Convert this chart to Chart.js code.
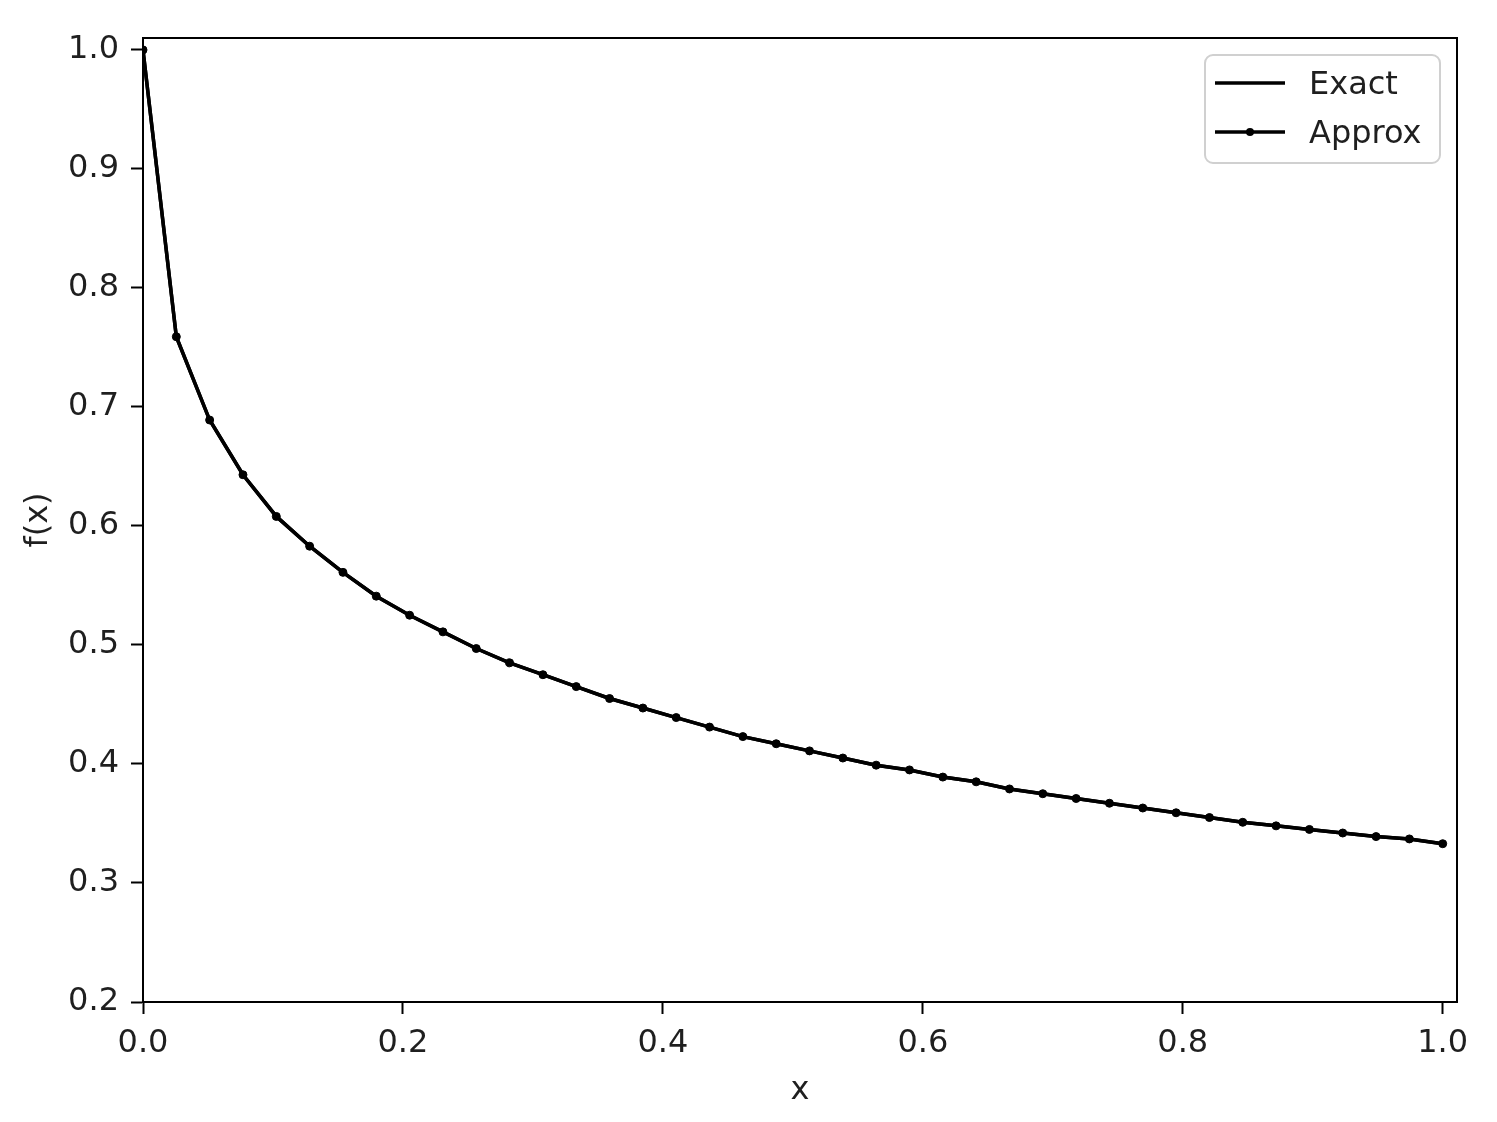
<!DOCTYPE html>
<html>
<head>
<meta charset="utf-8">
<script src="https://cdn.jsdelivr.net/npm/chart.js@4.4.1/dist/chart.umd.min.js"></script>
<style>
  html, body { margin: 0; padding: 0; background: #ffffff; }
  #wrap { width: 1497px; height: 1122px; }
</style>
</head>
<body>
<div id="wrap"><canvas id="c" width="1497" height="1122"></canvas></div>
<script>
// ---- data ----
const xValues = [
  0, 1/39, 2/39, 3/39, 4/39, 5/39, 6/39, 7/39, 8/39, 9/39,
  10/39, 11/39, 12/39, 13/39, 14/39, 15/39, 16/39, 17/39, 18/39, 19/39,
  20/39, 21/39, 22/39, 23/39, 24/39, 25/39, 26/39, 27/39, 28/39, 29/39,
  30/39, 31/39, 32/39, 33/39, 34/39, 35/39, 36/39, 37/39, 38/39, 1
];
const approxValues = [
  1.000, 0.759, 0.689, 0.643, 0.608, 0.583, 0.561, 0.541, 0.525, 0.511,
  0.497, 0.485, 0.475, 0.465, 0.455, 0.447, 0.439, 0.431, 0.423, 0.417,
  0.411, 0.405, 0.399, 0.395, 0.389, 0.385, 0.379, 0.375, 0.371, 0.367,
  0.363, 0.359, 0.355, 0.351, 0.348, 0.345, 0.342, 0.339, 0.337, 0.333
];
const exactValues = [
  1.000, 0.759, 0.689, 0.643, 0.608, 0.583, 0.561, 0.541, 0.525, 0.511,
  0.497, 0.485, 0.475, 0.465, 0.455, 0.447, 0.439, 0.431, 0.423, 0.417,
  0.411, 0.405, 0.399, 0.395, 0.389, 0.385, 0.379, 0.375, 0.371, 0.367,
  0.363, 0.359, 0.355, 0.351, 0.348, 0.345, 0.342, 0.339, 0.337, 0.333
];
const seriesNames = ["Exact", "Approx"];
const xTickValues = [0.0, 0.2, 0.4, 0.6, 0.8, 1.0];
const yTickValues = [0.2, 0.3, 0.4, 0.5, 0.6, 0.7, 0.8, 0.9, 1.0];
const xTitle = "x";
const yTitle = "f(x)";

const FONT = "'DejaVu Sans', 'Liberation Sans', sans-serif";
const TEXT = "#1f1f1f";

const toPoints = (ys) => xValues.map((x, i) => ({ x: x, y: ys[i] }));

// frame (top/right spines) + legend box
const framePlugin = {
  id: 'frameAndLegend',
  afterDraw(chart) {
    const ctx = chart.ctx;
    const a = chart.chartArea;
    ctx.save();
    ctx.strokeStyle = '#000';
    ctx.lineWidth = 2;
    ctx.beginPath();
    ctx.moveTo(a.left, a.top);
    ctx.lineTo(a.right, a.top);
    ctx.lineTo(a.right, a.bottom);
    ctx.stroke();

    // legend
    const bw = 235, bh = 108;
    const bx = a.right - 17 - bw, by = a.top + 17;
    ctx.fillStyle = 'rgba(255,255,255,0.8)';
    ctx.strokeStyle = '#d0d0d0';
    ctx.lineWidth = 2;
    ctx.beginPath();
    ctx.roundRect(bx, by, bw, bh, 8);
    ctx.fill();
    ctx.stroke();

    const rows = [by + 28, by + 77];
    chart.data.datasets.forEach((ds, i) => {
      const y = rows[i];
      ctx.strokeStyle = ds.borderColor;
      ctx.lineWidth = ds.borderWidth;
      ctx.beginPath();
      ctx.moveTo(bx + 10, y);
      ctx.lineTo(bx + 80, y);
      ctx.stroke();
      if (ds.pointRadius > 0) {
        ctx.fillStyle = ds.pointBackgroundColor;
        ctx.beginPath();
        ctx.arc(bx + 45, y, ds.pointRadius, 0, Math.PI * 2);
        ctx.fill();
      }
      ctx.fillStyle = TEXT;
      ctx.font = "32px " + FONT;
      ctx.textAlign = 'left';
      ctx.textBaseline = 'middle';
      ctx.fillText(ds.label, bx + 104, y + 3);
    });
    ctx.restore();
  }
};

new Chart(document.getElementById('c'), {
  type: 'line',
  data: {
    datasets: [
      {
        label: seriesNames[0],
        data: toPoints(exactValues),
        borderColor: '#000',
        backgroundColor: '#000',
        borderWidth: 3.5,
        pointRadius: 0,
        pointHoverRadius: 0,
        tension: 0,
        fill: false
      },
      {
        label: seriesNames[1],
        data: toPoints(approxValues),
        borderColor: '#000',
        backgroundColor: '#000',
        pointBackgroundColor: '#000',
        pointBorderColor: '#000',
        borderWidth: 3.5,
        pointRadius: 4,
        pointBorderWidth: 1,
        pointHoverRadius: 4,
        tension: 0,
        fill: false
      }
    ]
  },
  options: {
    responsive: false,
    animation: false,
    events: [],
    layout: { padding: { left: 0, top: 38, right: 40, bottom: 0 } },
    plugins: {
      legend: { display: false },
      tooltip: { enabled: false },
      title: { display: false }
    },
    scales: {
      x: {
        type: 'linear',
        min: 0,
        max: 1.011,
        afterBuildTicks: (s) => { s.ticks = xTickValues.map(v => ({ value: v })); },
        afterFit: (s) => { s.height = 120; },
        ticks: {
          color: TEXT,
          font: { family: FONT, size: 32 },
          padding: 10,
          maxRotation: 0,
          autoSkip: false,
          callback: (v) => Number(v).toFixed(1)
        },
        grid: {
          display: true,
          drawOnChartArea: false,
          drawTicks: true,
          tickLength: 12,
          tickWidth: 2,
          tickColor: '#000'
        },
        border: { display: true, color: '#000', width: 2 },
        title: {
          display: true,
          text: xTitle,
          color: TEXT,
          font: { family: FONT, size: 32 },
          padding: { top: 0, bottom: 12 }
        }
      },
      y: {
        type: 'linear',
        min: 0.2,
        max: 1.01,
        afterBuildTicks: (s) => { s.ticks = yTickValues.map(v => ({ value: v })); },
        afterFit: (s) => { s.width = 143; },
        ticks: {
          color: TEXT,
          font: { family: FONT, size: 32 },
          padding: 12,
          autoSkip: false,
          callback: (v) => Number(v).toFixed(1)
        },
        grid: {
          display: true,
          drawOnChartArea: false,
          drawTicks: true,
          tickLength: 12,
          tickWidth: 2,
          tickColor: '#000'
        },
        border: { display: true, color: '#000', width: 2 },
        title: {
          display: true,
          text: yTitle,
          color: TEXT,
          font: { family: FONT, size: 32 },
          padding: { top: 19, bottom: 0 }
        }
      }
    }
  },
  plugins: [framePlugin]
});
</script>
</body>
</html>
